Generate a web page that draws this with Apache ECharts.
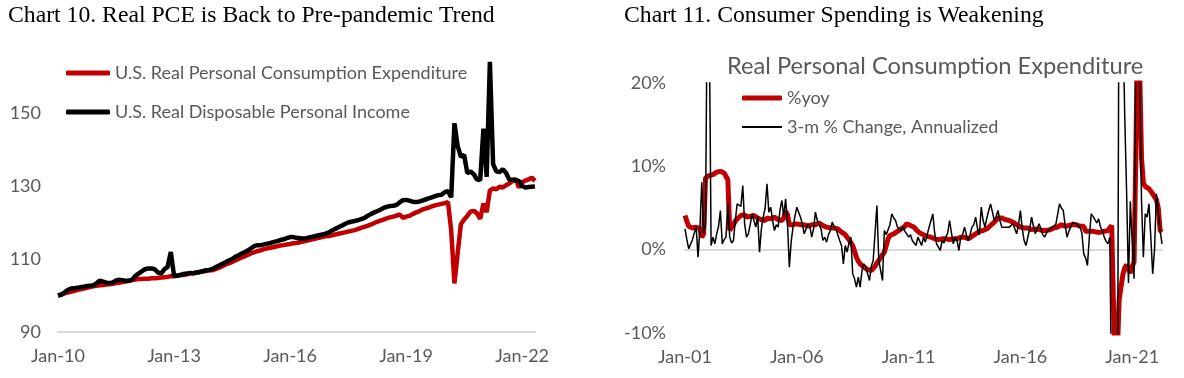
<!DOCTYPE html>
<html><head><meta charset="utf-8">
<script src="https://cdn.jsdelivr.net/npm/echarts@6/dist/echarts.min.js"></script>
<style>html,body{margin:0;padding:0;background:#fff;}#c{width:1184px;height:378px;}</style>
</head><body><div id="c"></div>
<script>
const MONTH_NAMES = ['Jan','Feb','Mar','Apr','May','Jun','Jul','Aug','Sep','Oct','Nov','Dec'];
function monthCats(y0, n) {
  const out = [];
  for (let i = 0; i < n; i++) {
    const y = y0 + Math.floor(i / 12);
    out.push(MONTH_NAMES[i % 12] + '-' + String(y % 100).padStart(2, '0'));
  }
  return out;
}

// Chart 10: index, Jan-2010 = 100 (Jan-10 .. May-22)
const leftCats = monthCats(2010, 149);
const realPCE = [
  100.0,100.3,100.6,100.8,101.0,101.3,101.5,101.7,101.9,102.1,102.3,102.5,
  102.7,102.8,102.9,103.0,103.1,103.2,103.4,103.5,103.7,103.8,104.0,104.2,
  104.4,104.5,104.5,104.6,104.6,104.7,104.7,104.8,104.9,105.0,105.1,105.3,
  105.3,105.4,105.6,105.6,105.8,106.0,106.1,106.3,106.5,106.6,106.7,107.0,
  106.9,107.3,107.6,108.0,108.5,108.8,109.2,109.6,110.0,110.4,110.8,111.2,
  111.6,111.9,112.2,112.4,112.7,112.9,113.1,113.3,113.5,113.7,113.8,114.0,
  114.1,114.3,114.4,114.6,114.8,115.0,115.2,115.4,115.6,115.8,116.0,116.2,
  116.3,116.5,116.7,116.9,117.1,117.3,117.5,117.7,117.9,118.2,118.5,118.8,
  119.1,119.4,119.8,120.2,120.5,120.8,121.1,121.4,121.6,121.9,122.2,121.3,
  121.6,121.8,122.3,122.7,123.1,123.5,123.8,124.1,124.4,124.7,124.9,125.1,
  125.3,125.6,117.8,103.3,111.5,119.5,120.8,121.8,123.0,123.2,122.5,121.0,
  125.2,122.8,128.8,129.3,129.1,129.8,129.6,130.2,130.7,131.3,132.0,129.6,
  131.0,131.5,131.8,132.3,131.4
];
const realDPI = [
  100.0,100.2,100.8,101.5,101.9,102.0,102.1,102.3,102.4,102.6,102.7,102.8,
  103.4,104.1,103.8,103.5,103.4,103.6,104.1,104.3,104.2,104.0,104.1,104.3,
  105.4,106.0,106.6,107.2,107.4,107.4,107.2,106.3,106.0,107.2,107.8,111.9,
  105.4,105.5,105.6,105.9,106.0,106.2,106.1,106.3,106.4,106.7,106.9,107.0,
  107.3,107.8,108.2,108.7,109.1,109.6,110.0,110.6,111.0,111.5,111.9,112.4,
  113.0,113.6,113.8,113.8,114.0,114.2,114.4,114.7,114.9,115.2,115.4,115.7,
  116.0,116.0,115.8,115.7,115.6,115.7,115.9,116.1,116.3,116.5,116.7,116.9,
  117.3,117.8,118.2,118.7,119.1,119.6,120.0,120.2,120.4,120.6,120.9,121.2,
  121.8,122.3,122.7,123.1,123.5,124.0,124.3,124.5,124.6,124.8,125.5,126.1,
  126.2,126.0,125.7,125.6,125.7,126.0,126.3,126.6,126.9,127.2,127.5,127.6,
  128.3,128.6,126.9,147.2,141.0,138.0,138.5,133.5,134.0,133.2,131.8,131.6,
  145.7,132.5,164.0,136.0,134.0,133.8,134.6,133.6,131.8,131.7,131.6,131.4,
  130.0,129.6,129.7,129.8,129.9
];
const leftTicks = ['Jan-10','Jan-13','Jan-16','Jan-19','Jan-22'];

// Chart 11: % (Jan-01 .. May-22)
const rightCats = monthCats(2001, 257);
const pceYoY = [
  4.1,3.4,2.8,2.7,2.6,2.6,2.7,2.6,2.5,1.5,1.9,8.6,
  8.8,8.9,9.1,9.0,9.2,9.3,9.3,9.4,9.5,9.2,9.3,8.4,
  2.3,2.7,3.0,3.4,3.7,3.9,4.1,4.0,4.2,3.9,3.8,4.0,
  4.2,4.1,4.0,3.8,3.9,3.6,3.7,3.5,3.8,3.9,3.7,3.8,
  3.9,3.7,3.6,3.7,3.5,3.8,4.6,4.2,3.0,2.9,3.0,3.1,
  3.1,3.2,3.0,2.9,3.0,3.0,2.8,2.9,3.0,3.1,3.0,3.1,
  3.2,3.0,2.9,2.8,2.7,2.7,2.6,2.7,2.6,2.6,2.5,2.4,
  2.1,2.0,1.8,1.5,1.2,1.0,0.5,-0.2,-0.9,-1.4,-1.7,-1.9,
  -2.1,-2.3,-2.4,-2.5,-2.5,-2.3,-2.0,-1.6,-1.3,-1.2,-0.6,-0.3,
  0.5,1.3,1.7,1.8,1.9,2.0,2.2,2.3,2.5,2.6,2.8,3.1,
  3.0,2.9,2.7,2.7,2.4,2.2,2.0,1.9,1.8,1.7,1.6,1.5,
  1.5,1.4,1.3,1.3,1.2,1.2,1.3,1.2,1.3,1.3,1.2,1.4,
  1.3,1.2,1.3,1.4,1.5,1.4,1.5,1.4,1.3,1.5,1.6,1.8,
  1.9,2.0,2.2,2.3,2.3,2.4,2.5,2.6,2.9,3.1,3.3,3.5,
  3.8,3.9,3.8,3.7,3.6,3.5,3.5,3.4,3.3,3.1,3.0,2.9,
  2.7,2.8,2.6,2.5,2.6,2.5,2.4,2.5,2.5,2.3,2.4,2.3,
  2.3,2.2,2.3,2.4,2.4,2.5,2.6,2.6,2.7,2.9,3.0,2.9,
  2.8,2.8,2.9,3.0,3.0,2.9,3.0,3.0,2.8,2.9,2.8,2.2,
  2.1,2.2,2.1,2.2,2.1,2.1,2.1,2.1,2.2,2.2,2.3,2.3,
  2.6,2.9,-7.0,-16.5,-12.5,-6.0,-4.5,-3.0,-2.2,-1.8,-1.6,-2.8,
  -2.0,-1.5,12.0,29.0,22.0,11.0,8.0,7.6,7.5,7.3,7.0,6.7,
  6.6,6.0,5.0,2.3,2.1
];
const pce3mAnn = [
  2.5,1.2,0.1,0.1,1.2,2.0,2.7,-0.9,2.5,8.1,2.0,3.0,
  32,28,0.5,1.5,0.7,1.9,2.8,4.7,0.7,1.2,1.5,5.5,
  1.5,0.8,1.1,3.5,5.5,5.7,5.2,7.7,3.1,1.5,1.9,3.0,
  4.3,3.5,2.7,4.0,-0.3,2.5,3.9,5.0,7.9,4.5,5.1,3.5,
  2.3,3.0,2.7,4.8,5.9,4.0,6.1,3.1,-2.1,1.0,2.7,4.0,
  5.1,4.5,3.9,3.0,1.9,2.5,3.1,2.8,1.5,2.5,4.5,3.5,
  3.5,2.5,1.1,1.5,0.9,1.8,2.3,3.3,2.8,2.5,1.8,1.1,
  0.5,-1.7,0.5,-0.3,0.8,1.5,-2.9,-3.5,-4.5,-3.3,-4.5,-2.5,
  -1.7,-2.0,-2.9,-3.7,-2.0,-1.3,2.0,5.3,-1.3,-2.5,-3.7,2.3,
  1.8,1.9,3.0,4.3,3.8,3.5,2.7,2.5,2.3,2.8,2.2,1.9,
  1.5,1.8,1.1,0.8,0.5,1.5,1.3,0.5,1.5,0.9,1.8,2.7,
  3.5,4.3,2.0,0.7,0.3,-0.1,1.1,0.8,1.5,2.0,3.5,2.0,
  0.7,1.5,1.1,-0.1,1.5,1.8,2.7,1.8,1.1,1.8,2.7,3.0,
  3.9,2.5,1.8,5.1,3.5,2.7,3.8,4.7,5.5,4.5,3.5,4.0,
  4.7,3.5,2.7,2.8,2.7,2.6,2.7,2.9,3.1,2.5,1.9,3.0,
  4.7,2.5,1.1,0.5,0.3,2.5,3.9,2.8,1.9,2.5,3.1,2.5,
  1.8,1.5,2.0,2.3,2.5,2.7,2.9,3.0,3.1,5.5,5.0,4.7,
  3.0,1.5,2.2,2.7,3.3,3.5,3.1,3.0,2.7,2.0,-0.5,-1.0,
  -1.9,1.5,4.3,4.0,3.9,3.2,3.7,2.7,2.3,1.5,1.0,0.7,
  1.5,-20,-45,-60,-30,40,55,28,16,7,-4,5.8,
  1.0,-3.5,25,45,22,6,-0.9,4.3,3.9,5.5,1.5,-2.9,
  0.0,6.7,6.6,2.3,0.7
];
const rightTicks = ['Jan-01','Jan-06','Jan-11','Jan-16','Jan-21'];

const SANS = 'Lato';
const GREY = '#595959';
const RED = '#C00000';
const lbl = { color: GREY, fontFamily: SANS, fontSize: 18 };

const chart = echarts.init(document.getElementById('c'), null, { renderer: 'canvas' });
chart.setOption({
  animation: false,
  backgroundColor: '#fff',
  title: [
    { text: 'Chart 10. Real PCE is Back to Pre-pandemic Trend', left: 8, top: 4, padding: 0,
      textStyle: { fontFamily: 'Liberation Serif', fontSize: 23.7, fontWeight: 'normal', color: '#000' } },
    { text: 'Chart 11. Consumer Spending is Weakening', left: 624, top: 4, padding: 0,
      textStyle: { fontFamily: 'Liberation Serif', fontSize: 23.7, fontWeight: 'normal', color: '#000' } },
    { text: 'Real Personal Consumption Expenditure', left: 727, top: 54, padding: 0,
      textStyle: { fontFamily: SANS, fontSize: 23.7, fontWeight: 'normal', color: GREY } }
  ],
  legend: [
    { data: ['U.S. Real Personal Consumption Expenditure'], left: 66, top: 64, padding: 0,
      itemWidth: 44, itemHeight: 5, icon: 'roundRect', textStyle: lbl },
    { data: ['U.S. Real Disposable Personal Income'], left: 66, top: 103, padding: 0,
      itemWidth: 44, itemHeight: 5, icon: 'roundRect', textStyle: lbl },
    { data: ['%yoy'], left: 742, top: 89, padding: 0,
      itemWidth: 40, itemHeight: 5, icon: 'roundRect', textStyle: lbl },
    { data: ['3-m % Change, Annualized'], left: 742, top: 118, padding: 0,
      itemWidth: 40, itemHeight: 2, icon: 'rect', textStyle: lbl }
  ],
  grid: [
    { left: 58, top: 40, width: 477, height: 292 },
    { left: 685, top: 83, width: 477, height: 250 }
  ],
  xAxis: [
    { type: 'category', gridIndex: 0, data: leftCats, boundaryGap: false,
      axisLine: { show: true, lineStyle: { color: '#D9D9D9', width: 2 } },
      axisTick: { show: false },
      axisLabel: Object.assign({ margin: 15, interval: (i, v) => leftTicks.includes(v) }, lbl),
      splitLine: { show: false } },
    { type: 'category', gridIndex: 1, data: rightCats, boundaryGap: false,
      axisLine: { show: true, onZero: true, lineStyle: { color: '#D9D9D9', width: 2 } },
      axisTick: { show: false }, axisLabel: { show: false }, splitLine: { show: false } },
    { type: 'category', gridIndex: 1, data: rightCats, boundaryGap: false, position: 'bottom',
      axisLine: { show: false, onZero: false }, axisTick: { show: false },
      axisLabel: Object.assign({ margin: 15, interval: (i, v) => rightTicks.includes(v) }, lbl),
      splitLine: { show: false } }
  ],
  yAxis: [
    { type: 'value', gridIndex: 0, min: 90, max: 170, interval: 20,
      axisLine: { show: false }, axisTick: { show: false }, splitLine: { show: false },
      axisLabel: Object.assign({ margin: 17, formatter: v => (v === 170 ? '' : String(v)) }, lbl) },
    { type: 'value', gridIndex: 1, min: -10, max: 20, interval: 10,
      axisLine: { show: false }, axisTick: { show: false }, splitLine: { show: false },
      axisLabel: Object.assign({ margin: 19, formatter: '{value}%' }, lbl) }
  ],
  series: [
    { name: 'U.S. Real Personal Consumption Expenditure', type: 'line', xAxisIndex: 0, yAxisIndex: 0,
      data: realPCE, symbol: 'none', color: RED, lineStyle: { color: RED, width: 4.5 }, z: 3 },
    { name: 'U.S. Real Disposable Personal Income', type: 'line', xAxisIndex: 0, yAxisIndex: 0,
      data: realDPI, symbol: 'none', color: '#000', lineStyle: { color: '#000', width: 4.5 }, z: 4 },
    { name: '%yoy', type: 'line', xAxisIndex: 1, yAxisIndex: 1,
      data: pceYoY, symbol: 'none', color: RED, lineStyle: { color: RED, width: 5 }, z: 3 },
    { name: '3-m % Change, Annualized', type: 'line', xAxisIndex: 1, yAxisIndex: 1,
      data: pce3mAnn, symbol: 'none', color: '#000', lineStyle: { color: '#000', width: 1.5 }, z: 4 }
  ]
});
</script>
</body></html>
